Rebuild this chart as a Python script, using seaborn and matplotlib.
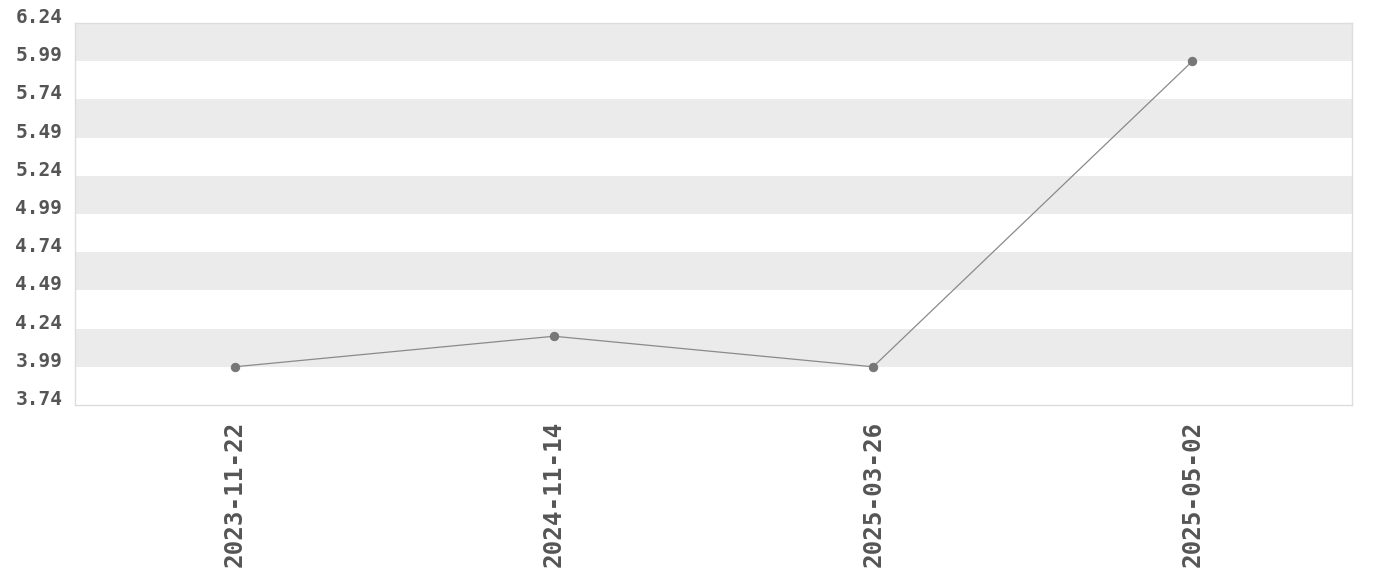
import matplotlib
matplotlib.use("Agg")
import matplotlib.pyplot as plt
import seaborn as sns
import pandas as pd
import numpy as np

dates = ["2023-11-22", "2024-11-14", "2025-03-26", "2025-05-02"]
values = [3.99, 4.19, 3.99, 5.99]
y_ticks = [3.74, 3.99, 4.24, 4.49, 4.74, 4.99, 5.24, 5.49, 5.74, 5.99, 6.24]

sns.set_style("white")
plt.rcParams['font.family'] = ['DejaVu Sans Mono', 'DejaVu Sans']

df = pd.DataFrame({"date": dates, "value": values})

fig = plt.figure(figsize=(13.8, 5.8), dpi=100)
ax = fig.add_axes([75/1380, 1-405/580, (1352-75)/1380, (405-23)/580])

# alternating bands
for i in range(len(y_ticks) - 1):
    if (len(y_ticks) - 2 - i) % 2 == 0:
        ax.axhspan(y_ticks[i], y_ticks[i+1], color="#ebebeb", lw=0, zorder=0)

sns.lineplot(data=df, x="date", y="value", ax=ax, color="#8a8a8a", linewidth=0.9,
             marker="o", markersize=6, markerfacecolor="#777777", markeredgecolor="#777777",
             sort=False, zorder=3)

ax.set_xlim(-0.5, len(dates) - 0.5)
ax.set_ylim(y_ticks[0], y_ticks[-1])
ax.set_yticks(y_ticks)
ax.set_yticklabels([f"{v:.2f}" for v in y_ticks])
ax.set_xlabel("")
ax.set_ylabel("")
ax.tick_params(axis="both", length=0, labelcolor="#555555")
ax.tick_params(axis="y", pad=9, labelsize=14)
ax.tick_params(axis="x", pad=11, labelsize=17.5)
for lab in ax.get_xticklabels():
    lab.set_rotation(90)
    lab.set_fontweight("bold")
for lab in ax.get_yticklabels():
    lab.set_fontweight("bold")
    lab.set_va("baseline")
for s in ax.spines.values():
    s.set_color("#dddddd")
    s.set_linewidth(1)

fig.savefig("out.png", dpi=100)
